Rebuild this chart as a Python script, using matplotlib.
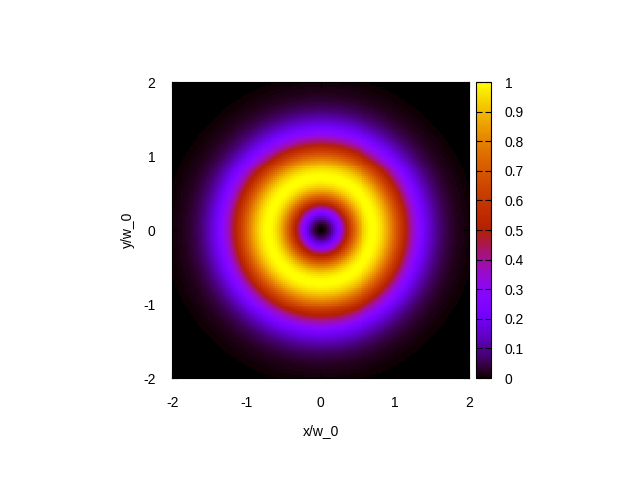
import numpy as np
import matplotlib
matplotlib.use("Agg")
import matplotlib.pyplot as plt

plt.rcParams["font.family"] = ["Liberation Sans", "DejaVu Sans"]
plt.rcParams["font.size"] = 10

# Laguerre-Gauss mode LG_p^l, waist w_0 = 1
l_index = 1
p_index = 0
n_cells = 150
x_range = [-2, 2]
y_range = [-2, 2]
ticks_xy = [-2, -1, 0, 1, 2]
ticks_cb = [0, 0.1, 0.2, 0.3, 0.4, 0.5, 0.6, 0.7, 0.8, 0.9, 1]

x = np.linspace(x_range[0], x_range[1], n_cells)
y = np.linspace(y_range[0], y_range[1], n_cells)
X, Y = np.meshgrid(x, y)
r2 = 2 * (X**2 + Y**2)
intensity = r2**l_index * np.exp(-r2)
intensity = intensity / intensity.max()

fig = plt.figure(figsize=(6.4, 4.8), dpi=100)
ax = fig.add_axes([0.269, 0.2125, 0.464, 0.6165])
cax = fig.add_axes([0.744, 0.2125, 0.023, 0.6165])

mesh = ax.pcolormesh(X, Y, intensity, cmap="gnuplot", vmin=0, vmax=1, shading="nearest")
ax.set_xlim(x_range)
ax.set_ylim(y_range)
ax.set_xticks(ticks_xy)
ax.set_yticks(ticks_xy)
ax.set_xticklabels([str(t) for t in ticks_xy])
ax.set_yticklabels([str(t) for t in ticks_xy])
ax.tick_params(direction="in", length=4, top=True, right=True)
ax.tick_params(axis="x", pad=13)
ax.tick_params(axis="y", pad=12)
ax.set_xlabel("x/w_0", labelpad=10)
ax.set_ylabel("y/w_0", labelpad=6)
for s in ax.spines.values():
    s.set_linewidth(0.8)

cb = fig.colorbar(mesh, cax=cax)
cb.set_ticks(ticks_cb)
cb.set_ticklabels(["0", "0.1", "0.2", "0.3", "0.4", "0.5", "0.6", "0.7", "0.8", "0.9", "1"])
cax.tick_params(direction="in", length=4, left=True, right=True, pad=10)
cb.outline.set_linewidth(0.8)

fig.savefig("out.png", dpi=100)
